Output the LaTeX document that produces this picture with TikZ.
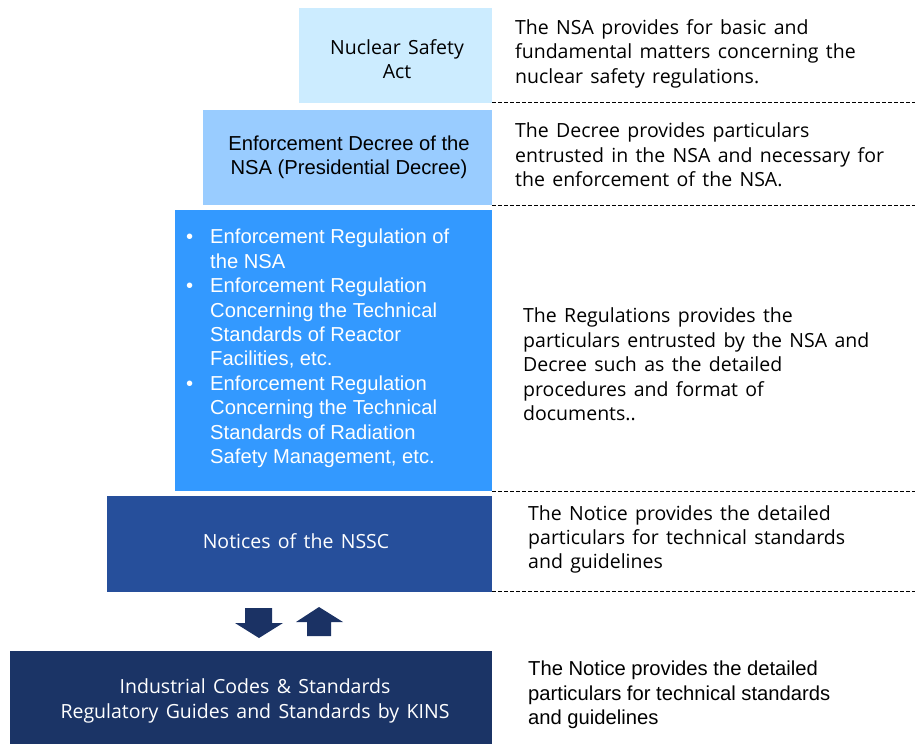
\documentclass[tikz,border=0pt]{standalone}
\usepackage{fontspec}
\setmainfont[WordSpace=1.45]{Open Sans}
\newfontfamily\arialf{Liberation Sans}
\definecolor{cOne}{HTML}{CCECFF}
\definecolor{cTwo}{HTML}{99CCFF}
\definecolor{cThree}{HTML}{3399FF}
\definecolor{cFour}{HTML}{264F9B}
\definecolor{cFive}{HTML}{1B3466}
\definecolor{cArrow}{HTML}{1B3264}
\tikzset{
  mg/.style={inner sep=0pt, align=left, font=\fontsize{19.5}{24.4}\selectfont, text=black},
  mgc/.style={inner sep=0pt, align=center, font=\fontsize{19.5}{24.4}\selectfont},
  ar/.style={inner sep=0pt, align=left, font=\arialf\fontsize{20.2}{24.4}\selectfont},
  arc/.style={inner sep=0pt, align=center, font=\arialf\fontsize{20.2}{24.4}\selectfont},
  sep/.style={black, line width=0.8pt, dash pattern=on 4pt off 2pt},
  bigarrow/.style={fill=cArrow, draw=none}
}
\begin{document}
\begin{tikzpicture}[x=1pt,y=-1pt]
\useasboundingbox (0,0) rectangle (915,744);
% boxes
\fill[cOne] (299,8) rectangle (492,103);
\fill[cTwo] (203,110) rectangle (492,205);
\fill[cThree] (175,210) rectangle (492,491);
\fill[cFour] (107,496) rectangle (492,592);
\fill[cFive] (10,651) rectangle (492,744);
% box texts
\node[mgc, text=black] (t1) at (397,59) {Nuclear Safety\\Act};
\node[arc, text=black] (t2) at (349,157.5) {Enforcement Decree of the\\NSA (Presidential Decree)};
\node[ar, text=white, anchor=west] (t3) at (186,348.5) {%
\makebox[24pt][l]{\textbullet}Enforcement Regulation of\\
\hspace*{24pt}the NSA\\
\makebox[24pt][l]{\textbullet}Enforcement Regulation\\
\hspace*{24pt}Concerning the Technical\\
\hspace*{24pt}Standards of Reactor\\
\hspace*{24pt}Facilities, etc.\\
\makebox[24pt][l]{\textbullet}Enforcement Regulation\\
\hspace*{24pt}Concerning the Technical\\
\hspace*{24pt}Standards of Radiation\\
\hspace*{24pt}Safety Management, etc.};
\node[mgc, text=white] (t4) at (296,541) {Notices of the NSSC};
\node[mgc, text=white] (t5) at (255,701) {Industrial Codes \& Standards\\Regulatory Guides and Standards by KINS};
% arrows
\fill[bigarrow] (245,608) -- (272,608) -- (272,623) -- (283,623) -- (259,638) -- (235,623) -- (245,623) -- cycle;
\fill[bigarrow] (319,607) -- (343,622) -- (331,622) -- (331,636) -- (307,636) -- (307,622) -- (296,622) -- cycle;
% separators
\coordinate (s1a) at (492,102); \coordinate (s1b) at (915,102);
\coordinate (s2a) at (492,205); \coordinate (s2b) at (915,205);
\coordinate (s3a) at (492,491.5); \coordinate (s3b) at (915,491.5);
\coordinate (s4a) at (492,591.5); \coordinate (s4b) at (915,591.5);
\draw[sep] (s1a) -- (s1b);
\draw[sep] (s2a) -- (s2b);
\draw[sep] (s3a) -- (s3b);
\draw[sep] (s4a) -- (s4b);
% right texts
\node[mg, anchor=west] (d1) at (515,53.5) {The NSA provides for basic and\\fundamental matters concerning the\\nuclear safety regulations.};
\node[mg, anchor=west] (d2) at (515,155) {The Decree provides particulars\\entrusted in the NSA and necessary for\\the enforcement of the NSA.};
\node[mg, anchor=west] (d3) at (523,364.5) {The Regulations provides the\\particulars entrusted by the NSA and\\Decree such as the detailed\\procedures and format of\\documents..};
\node[mg, anchor=west] (d4) at (528,539.5) {The Notice provides the detailed\\particulars for technical standards\\and guidelines};
\node[ar, anchor=west] (d5) at (528,695) {The Notice provides the detailed\\particulars for technical standards\\and guidelines};
\end{tikzpicture}
\end{document}
